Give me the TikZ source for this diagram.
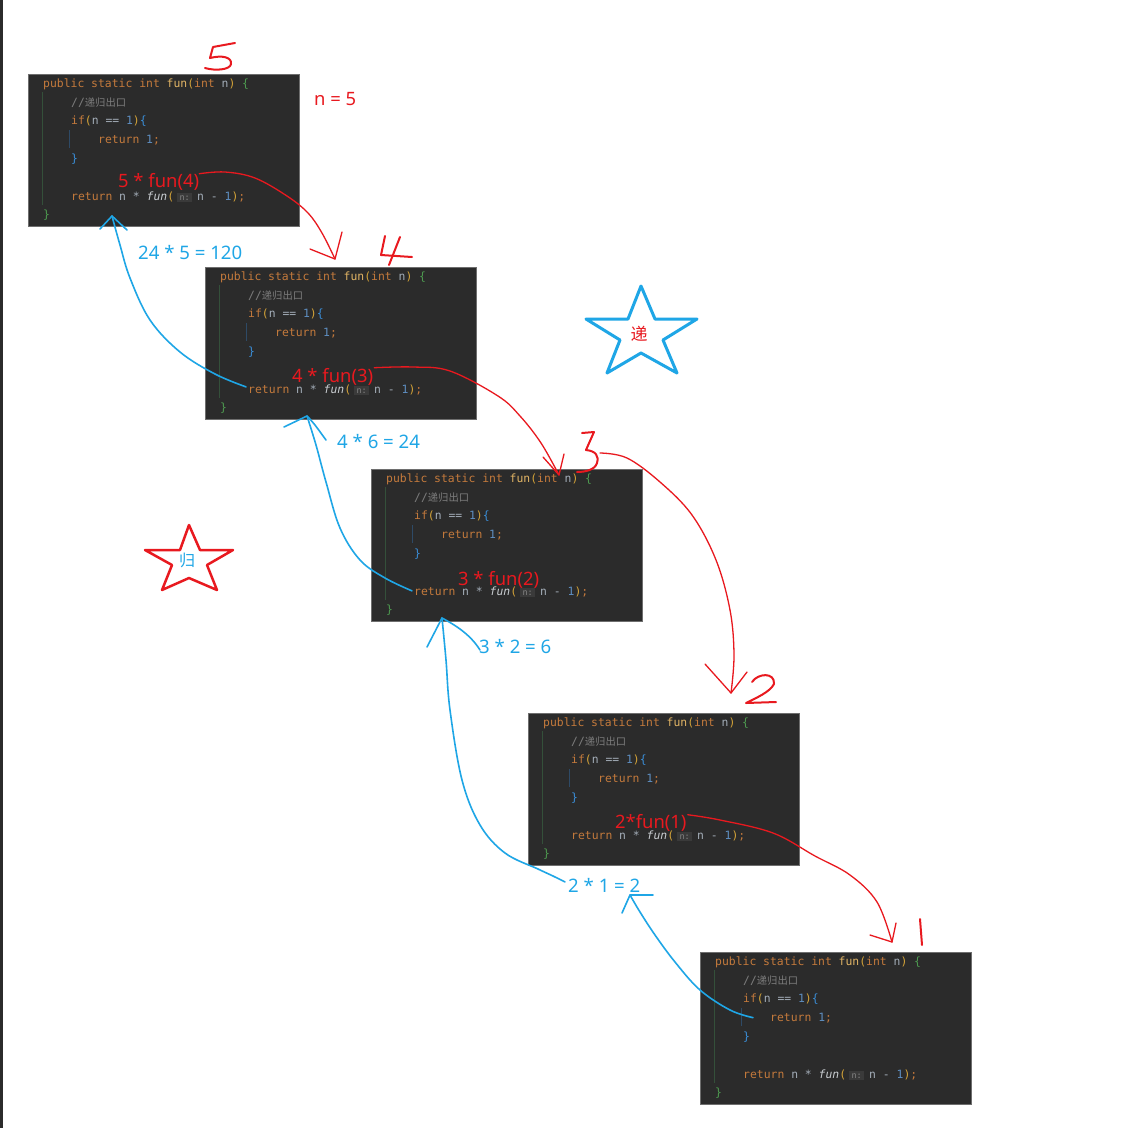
\documentclass[tikz,border=0pt]{standalone}
\usepackage{fontspec}
\setmainfont{Noto Sans}
\newfontfamily\codefont{DejaVu Sans Mono}
\newfontfamily\cjk{Noto Sans CJK SC}
\usetikzlibrary{calc}
\definecolor{kwc}{HTML}{C47A3C}
\definecolor{fnc}{HTML}{E2B565}
\definecolor{parc}{HTML}{D4A338}
\definecolor{varc}{HTML}{A3ADB8}
\definecolor{numc}{HTML}{5E8EC0}
\definecolor{gbrc}{HTML}{4E9B50}
\definecolor{bbrc}{HTML}{3A8ED8}
\definecolor{cmtc}{HTML}{7D7D7D}
\definecolor{callc}{HTML}{C9CDD1}
\definecolor{hintbg}{HTML}{3A3A3A}
\definecolor{hintfg}{HTML}{858585}
\definecolor{codebg}{HTML}{2B2B2B}
\definecolor{codeedge}{HTML}{6E6E6E}
\definecolor{guideg}{HTML}{34503A}
\definecolor{guideb}{HTML}{2E4A66}
\definecolor{hred}{HTML}{E8191F}
\definecolor{hblue}{HTML}{1FA6E6}
\newcommand\CKw[1]{\textcolor{kwc}{#1}}
\newcommand\CFn[1]{\textcolor{fnc}{#1}}
\newcommand\CPar[1]{\textcolor{parc}{#1}}
\newcommand\CVar[1]{\textcolor{varc}{#1}}
\newcommand\CNum[1]{\textcolor{numc}{#1}}
\newcommand\CGb[1]{\textcolor{gbrc}{#1}}
\newcommand\CBb[1]{\textcolor{bbrc}{#1}}
\newcommand\CCm[1]{\textcolor{cmtc}{#1}}
\newcommand\CHint{\hspace{3pt}{\setlength\fboxsep{2.4pt}\colorbox{hintbg}{\textcolor{hintfg}{\fontsize{8.5}{9}\selectfont n:}}}\hspace{5pt}}
\tikzset{
  codebox/.style={anchor=north west, fill=codebg, draw=codeedge, line width=0.8pt,
    minimum width=271pt, minimum height=152pt, inner sep=0pt},
  codeline/.style={anchor=base west, inner sep=0pt, font=\codefont\fontsize{11.4}{13}\selectfont},
  rlab/.style={anchor=base west, inner sep=0pt, text=hred, font=\fontsize{18.4}{22}\selectfont},
  blab/.style={anchor=base west, inner sep=0pt, text=hblue, font=\fontsize{18.6}{22}\selectfont},
  rline/.style={draw=hred, line width=1.3pt, line cap=round, line join=round},
  bline/.style={draw=hblue, line width=1.6pt, line cap=round, line join=round},
  digit/.style={draw=hred, line width=2pt, line cap=round, line join=round},
}
\newcommand\codeblock[3]{%
  \node[codebox] (#1) at (#2,#3) {};
  \draw[guideg, line width=1pt] (#2+14,#3+18) -- (#2+14,#3+131);
  \draw[guideb, line width=1pt] (#2+41,#3+56) -- (#2+41,#3+74);
  \node[codeline] (#1a) at (#2+15,#3+13) {\CKw{public static int} \CFn{fun}\CPar{(}\CKw{int} \CVar{n}\CPar{)} \CGb{\{}};
  \node[codeline] (#1b) at (#2+43,#3+32) {\CCm{//{\cjk\fontsize{10.3}{12}\selectfont 递归出口}}};
  \node[codeline] (#1c) at (#2+43,#3+50) {\CKw{if}\CPar{(}\CVar{n == }\CNum{1}\CPar{)}\CBb{\{}};
  \node[codeline] (#1d) at (#2+70,#3+69) {\CKw{return} \CNum{1}\CKw{;}};
  \node[codeline] (#1e) at (#2+43,#3+88) {\CBb{\}}};
  \node[codeline] (#1f) at (#2+43,#3+126) {\CKw{return} \CVar{n * }\textcolor{callc}{\itshape fun}\CPar{(}\CHint\CVar{n - }\CNum{1}\CPar{)}\CKw{;}};
  \node[codeline] (#1g) at (#2+15,#3+144) {\CGb{\}}};
}
\begin{document}
\begin{tikzpicture}[x=1pt,y=-1pt]
\useasboundingbox (0,0) rectangle (1138,1128);
\fill[white] (0,0) rectangle (1138,1128);
\fill[codebg] (0,0) rectangle (3,1128);

% code screenshots
\codeblock{b1}{28}{74}
\codeblock{b2}{205}{267}
\codeblock{b3}{371}{469}
\codeblock{b4}{528}{713}
\codeblock{b5}{700}{952}

% red labels
\node[rlab] (nlab) at (314,105) {n = 5};
\node[rlab] (rl1) at (118,187) {5 * fun(4)};
\node[rlab] (rl2) at (292,382) {4 * fun(3)};
\node[rlab] (rl3) at (458,585) {3 * fun(2)};
\node[rlab] (rl4) at (615,828) {2*fun(1)};

% blue labels
\node[blab] (bl1) at (138,259) {24 * 5 = 120};
\node[blab] (bl2) at (337,448) {4 * 6 = 24};
\node[blab] (bl3) at (479,653) {3 * 2 = 6};
\node[blab] (bl4) at (568,892) {2 * 1 = 2};

% handwritten digits
\draw[digit] (235,43) -- (213,47) -- (210,58) .. controls (222,55) and (232,57) .. (231,64) .. controls (230,70) and (215,71) .. (205,68);
\draw[digit] (385,236) -- (381,255) -- (412,257);
\draw[digit] (400,237) -- (389,265);
\draw[digit] (582,433) -- (594,432) -- (586,450) .. controls (596,451) and (599,456) .. (597,463) .. controls (595,470) and (585,472) .. (577,472);
\coordinate (h3) at (600,453);
\draw[digit] (752,682) .. controls (758,673) and (775,672) .. (774,684) .. controls (770,692) and (756,698) .. (746,703) -- (776,702);
\draw[digit] (920,919) -- (922,945);

% red (recursion) connectors
\coordinate (t2) at (335,259);
\coordinate (t3) at (559,475);
\coordinate (t4) at (731,693);
\coordinate (t5) at (892,942);
\draw[rline] plot[smooth, tension=0.6] coordinates {($(rl1.north east)+(0,1)$) (225,172) (255,178) (287,196) (308,213) (322,233) (t2)};
\draw[rline] (t2) ++(-25,-10) -- (t2) -- ++(7,-27);
\draw[rline] plot[smooth, tension=0.6] coordinates {($(rl2.north east)+(1,0)$) (413,367) (450,371) (498,396) (520,416) (541,443) (t3)};
\draw[rline] (t3) ++(-16,-18) -- (t3) -- ++(5,-21);
\draw[rline] plot[smooth, tension=0.6] coordinates {(h3) (627,458) (660,482) (692,515) (716,560) (730,610) (734,655) (t4)};
\draw[rline] (t4) ++(-26,-29) -- (t4) -- ++(16,-21);
\draw[rline] plot[smooth, tension=0.6] coordinates {($(rl4.north east)+(1,1)$) (720,820) (773,833) (815,856) (850,875) (877,902) (t5)};
\draw[rline] (t5) ++(-22,-7) -- (t5) -- ++(4,-19);

% blue (return) connectors
\coordinate (u1) at (112,216);
\coordinate (u2) at (307,416);
\coordinate (u3) at (442,618);
\coordinate (u4) at (630,895);
\draw[bline] plot[smooth, tension=0.6] coordinates {($(b2f.west)+(-2,-3)$) (215,374) (180,352) (150,320) (130,278) (120,245) (u1)};
\draw[bline] (u1) ++(-12,13) -- (u1) -- ++(15,14);
\draw[bline] plot[smooth, tension=0.6] coordinates {($(b3f.west)+(-2,-1)$) (385,578) (360,560) (340,528) (326,482) (316,445) (u2)};
\draw[bline] (u2) ++(-23,11) -- (u2) .. controls (315,424) and (320,432) .. (326,440);
\draw[bline] plot[smooth, tension=0.6] coordinates {($(bl4.west)+(-3,-3)$) (553,876) (538,869) (505,853) (480,825) (462,780) (450,710) (446,660) (u3)};
\draw[bline] (u3) ++(-15,29) -- (u3) .. controls (455,625) and (470,634) .. (480,650);
\draw[bline] plot[smooth, tension=0.6] coordinates {($(b5d.west)+(-17,0)$) (730,1010) (700,990) (675,962) (655,935) (640,912) (u4)};
\draw[bline] (u4) ++(-8,18) -- (u4) -- ++(23,0);

% stars
\draw[draw=hblue, line width=3pt, line join=round]
  (641,286) -- (655,319) -- (697,319) -- (663,340) -- (677,373) -- (641,353)
  -- (607,373) -- (620,340) -- (586,319) -- (628,319) -- cycle;
\node[text=hred, font=\cjk\fontsize{17}{20}\selectfont, inner sep=0pt] (di) at (639,334) {递};
\draw[draw=hred, line width=2.5pt, line join=round]
  (189,525) -- (200,550) -- (233,550) -- (207,565) -- (217,590) -- (189,578)
  -- (162,590) -- (172,565) -- (145,550) -- (180,550) -- cycle;
\node[text=hblue, font=\cjk\fontsize{16}{19}\selectfont, inner sep=0pt] (gui) at (187,560) {归};
\end{tikzpicture}
\end{document}
